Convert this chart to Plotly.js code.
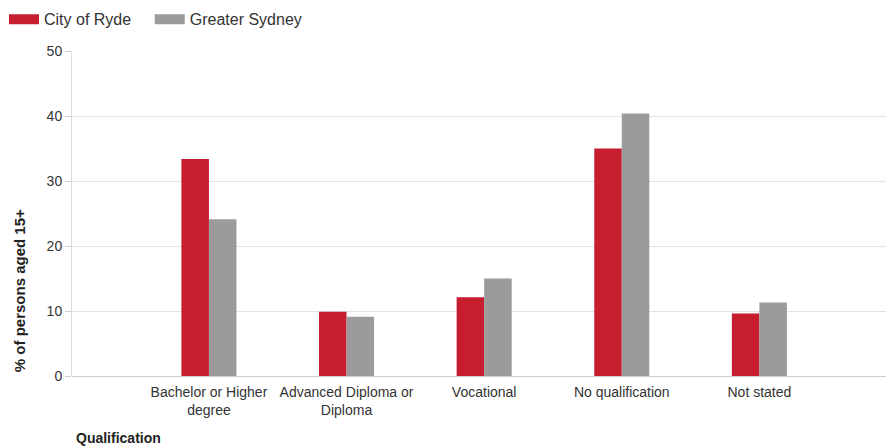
<!DOCTYPE html>
<html>
<head>
<meta charset="utf-8">
<script src="https://cdn.plot.ly/plotly-3.0.1.min.js"></script>
<style>
  html, body { margin: 0; padding: 0; background: #ffffff; }
  #chart { width: 886px; height: 447px; }
</style>
</head>
<body>
<div id="chart"></div>
<script>
// Highest qualification achieved, % of persons aged 15+
const categories = [
  "Bachelor or Higher<br>degree",
  "Advanced Diploma or<br>Diploma",
  "Vocational",
  "No qualification",
  "Not stated"
];
const cityOfRyde = [33.4, 9.9, 12.1, 35.0, 9.6];
const greaterSydney = [24.1, 9.1, 15.0, 40.4, 11.3];
const seriesNames = ["City of Ryde", "Greater Sydney"];
const seriesColors = ["#c61d2f", "#9b9b9b"];
const yTicks = [0, 10, 20, 30, 40, 50];

const barTraces = [cityOfRyde, greaterSydney].map((vals, i) => ({
  type: "bar",
  x: categories,
  y: vals,
  name: seriesNames[i],
  marker: { color: seriesColors[i], line: { width: 0 } },
  showlegend: false,
  hoverinfo: "x+y+name"
}));

// Wide legend swatches drawn as thick line keys, one legend box per series
const legendIds = ["legend", "legend2"];
const legendTraces = seriesNames.map((name, i) => ({
  type: "scatter",
  mode: "lines",
  x: [null],
  y: [null],
  name: name,
  legend: legendIds[i],
  line: { color: seriesColors[i], width: 13 },
  showlegend: true,
  hoverinfo: "skip"
}));

const legendBase = {
  orientation: "h",
  xref: "container",
  yref: "container",
  xanchor: "left",
  y: 0.995,
  yanchor: "top",
  font: { size: 16, color: "#333333" },
  itemwidth: 30,
  bgcolor: "rgba(0,0,0,0)"
};

const layout = {
  width: 886,
  height: 447,
  paper_bgcolor: "#ffffff",
  plot_bgcolor: "#ffffff",
  margin: { l: 72, r: 0, t: 51, b: 71, pad: 0, autoexpand: false },
  font: { family: "Liberation Sans, Arial, sans-serif", size: 14, color: "#333333" },
  barmode: "group",
  bargap: 0.6,
  bargroupgap: 0,
  showlegend: true,
  legend: Object.assign({}, legendBase, { x: 0.0045 }),
  legend2: Object.assign({}, legendBase, { x: 0.169 }),
  xaxis: {
    type: "category",
    range: [-0.995, 4.92],
    showgrid: false,
    zeroline: false,
    showline: false,
    ticks: "",
    ticklabelstandoff: 6,
    tickfont: { size: 14, color: "#333333" },
    fixedrange: true
  },
  yaxis: {
    range: [0, 50],
    tickvals: yTicks,
    ticktext: yTicks.map(String),
    showgrid: true,
    gridcolor: "#e3e3e3",
    gridwidth: 1,
    zeroline: true,
    zerolinecolor: "#cfcfcf",
    zerolinewidth: 1,
    showline: true,
    linecolor: "#dcdcdc",
    linewidth: 1,
    ticks: "outside",
    ticklen: 6,
    tickcolor: "#cfcfcf",
    tickfont: { size: 14, color: "#333333" },
    fixedrange: true
  },
  annotations: [
    {
      text: "<b>% of persons aged 15+</b>",
      xref: "paper", yref: "paper",
      x: -0.0635, y: 0.005,
      xanchor: "center", yanchor: "bottom",
      textangle: -90,
      showarrow: false,
      font: { size: 15, color: "#222222" }
    },
    {
      text: "<b>Qualification</b>",
      xref: "paper", yref: "paper",
      x: 0.003, y: -0.19,
      xanchor: "left", yanchor: "middle",
      showarrow: false,
      font: { size: 14, color: "#222222" }
    }
  ]
};

Plotly.newPlot("chart", barTraces.concat(legendTraces), layout, { displayModeBar: false, staticPlot: true });
</script>
</body>
</html>
